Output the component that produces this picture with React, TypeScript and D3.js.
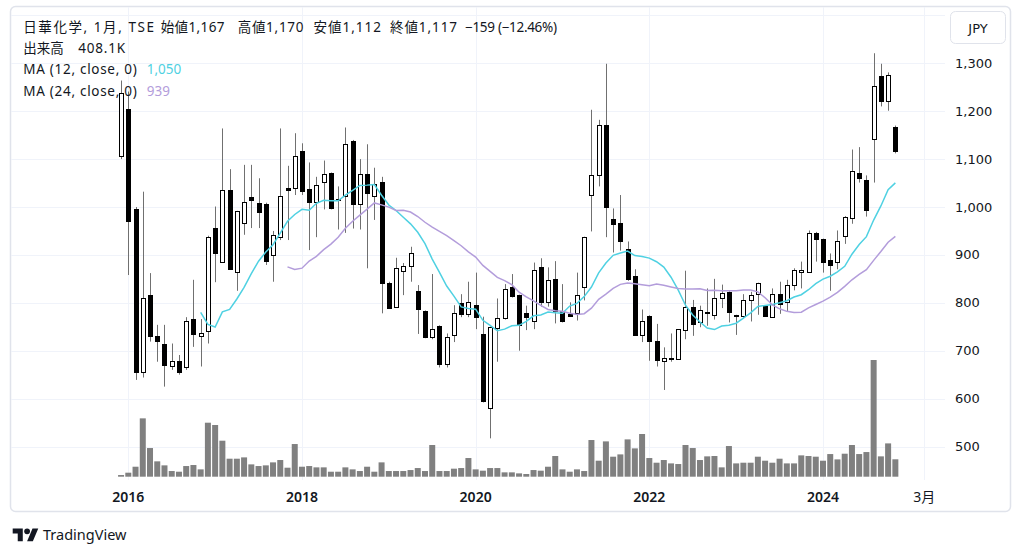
import React from "react";
import * as d3 from "d3";

// ---------- data (monthly, from 2015-12 to 2024-11) ----------
const startMonth = "2015-12";
const instrument = "日華化学";
const interval = "1月";
const exchange = "TSE";

const opens = [
  1107, 1204, 996, 655, 817, 731, 715, 668, 679, 667,
  766, 731, 741, 956, 885, 1036, 864, 966, 1020, 1009,
  1006, 900, 938, 1039, 1039, 1116, 1037, 1011, 1052, 1070,
  1017, 1023, 1138, 1006, 1068, 1023, 1052, 842, 791, 867,
  876, 825, 783, 728, 752, 672, 733, 799, 777, 795,
  734, 580, 747, 768, 832, 816, 779, 762, 874, 801,
  849, 783, 777, 779, 832, 1025, 1067, 1171, 974, 967,
  912, 855, 733, 773, 721, 679, 684, 682, 743, 792,
  759, 780, 775, 810, 823, 774, 773, 806, 818, 793,
  771, 818, 802, 837, 864, 864, 946, 933, 889, 885,
  940, 976, 1072, 1056, 1142, 1274, 1222, 1167,
];
const highs = [
  1264, 1241, 1000, 1032, 862, 754, 754, 715, 691, 770,
  848, 766, 940, 1001, 1164, 1079, 992, 1088, 1088, 1060,
  1009, 950, 1164, 1086, 1154, 1133, 1093, 1063, 1097, 1072,
  1043, 1166, 1140, 1100, 1131, 1082, 1063, 844, 894, 883,
  917, 837, 784, 860, 753, 736, 795, 818, 844, 863,
  771, 750, 809, 839, 860, 817, 794, 884, 893, 874,
  887, 839, 801, 863, 938, 1203, 1182, 1299, 997, 1025,
  928, 870, 786, 774, 756, 707, 736, 745, 867, 806,
  794, 830, 850, 838, 824, 775, 818, 823, 842, 795,
  830, 844, 848, 872, 886, 951, 948, 934, 903, 951,
  981, 1120, 1125, 1066, 1321, 1299, 1281, 1170,
];
const lows = [
  1100, 858, 639, 644, 719, 677, 625, 660, 650, 660,
  708, 667, 715, 843, 884, 869, 825, 942, 956, 956,
  879, 844, 931, 931, 1025, 1025, 910, 937, 995, 995,
  953, 946, 955, 953, 872, 973, 778, 787, 790, 816,
  844, 735, 726, 724, 665, 665, 718, 770, 770, 745,
  592, 517, 677, 765, 811, 700, 743, 745, 792, 792,
  757, 759, 771, 763, 805, 949, 1043, 937, 905, 909,
  846, 733, 718, 679, 667, 618, 677, 681, 724, 731,
  749, 752, 765, 789, 759, 733, 767, 761, 775, 771,
  770, 777, 782, 826, 830, 863, 886, 863, 825, 870,
  923, 965, 1051, 980, 1051, 1210, 1201, 1112,
];
const closes = [
  1237, 971, 655, 809, 730, 721, 670, 679, 655, 762,
  734, 736, 938, 903, 1036, 870, 992, 1011, 1015, 990,
  887, 942, 1023, 1036, 1107, 1034, 1011, 1045, 1068, 997,
  1015, 1131, 1006, 1068, 1030, 1049, 841, 789, 873, 876,
  903, 787, 728, 745, 672, 728, 778, 777, 802, 771,
  594, 749, 768, 828, 814, 754, 770, 869, 801, 848,
  782, 762, 773, 817, 937, 1067, 1171, 999, 964, 928,
  849, 733, 762, 720, 681, 684, 682, 745, 792, 756,
  786, 778, 810, 821, 781, 773, 806, 817, 842, 772,
  818, 798, 837, 869, 869, 946, 933, 885, 879, 928,
  980, 1076, 1061, 994, 1253, 1222, 1276, 1117,
];
// volume in thousands of shares
const volumesK = [
  39, 94, 234, 1368, 672, 360, 266, 133, 117, 250,
  274, 172, 1266, 1212, 844, 422, 422, 453, 289, 250,
  266, 336, 391, 211, 766, 234, 250, 219, 219, 117,
  117, 219, 172, 133, 234, 117, 336, 133, 133, 133,
  156, 203, 133, 743, 133, 133, 188, 203, 438, 172,
  141, 203, 203, 102, 102, 78, 63, 156, 141, 234,
  485, 172, 117, 172, 133, 860, 375, 828, 469, 523,
  875, 664, 1001, 438, 328, 391, 312, 297, 743, 672,
  391, 477, 485, 219, 719, 312, 328, 328, 469, 375,
  328, 422, 312, 312, 500, 485, 469, 375, 531, 406,
  539, 743, 531, 578, 2736, 477, 781, 408.1,
];

const priceTicks = [1300, 1200, 1100, 1000, 900, 800, 700, 600, 500];
const timeTickLabels = ["2016", "2018", "2020", "2022", "2024", "3月"];
const timeTickMonths = ["2016-01", "2018-01", "2020-01", "2022-01", "2024-01", "2025-03"];
const maPeriods = [12, 24];

// ---------- helpers ----------
const W = 1024;
const H = 557;
const LEGEND_FONT = "'Noto Sans', 'Noto Sans CJK JP', sans-serif";
const PRICE_FONT = "'DejaVu Sans', 'Noto Sans CJK JP', sans-serif";
const TEXT = "#131722";
const GRID = "#f0f3fa";
const BORDER = "#e0e3eb";
const MA_COLORS = ["#4fd1e2", "#b39ddb"];

function monthIndex(s: string) {
  const [y0, m0] = startMonth.split("-").map(Number);
  const [y, m] = s.split("-").map(Number);
  return (y - y0) * 12 + (m - m0);
}

function sma(values: number[], n: number): (number | null)[] {
  return values.map((_, i) => (i < n - 1 ? null : (d3.mean(values.slice(i - n + 1, i + 1)) as number)));
}

export default function App() {
  const plot = { left: 10, right: 945, top: 6, bottom: 480 };

  const x = d3
    .scaleLinear()
    .domain([monthIndex(timeTickMonths[0]), monthIndex(timeTickMonths[timeTickMonths.length - 1])])
    .range([128.3, 924.3]);
  const y = d3.scaleLinear().domain([500, 1300]).range([446.5, 63.3]);
  const vy = d3
    .scaleLinear()
    .domain([0, d3.max(volumesK) as number])
    .range([476.7, 360]);

  const gridPrices = d3
    .range(Math.ceil(y.invert(plot.bottom) / 100) * 100, y.invert(plot.top), 100)
    .filter((p) => y(p) > plot.top && y(p) < plot.bottom);

  const mas = maPeriods.map((n) => sma(closes, n));
  const line = d3
    .line<number | null>()
    .defined((d) => d != null)
    .x((_, i) => x(i))
    .y((d) => y(d as number));

  const n = closes.length;
  const last = n - 1;
  const fmt = d3.format(",");
  const chg = closes[last] - closes[last - 1];
  const pct = (chg / closes[last - 1]) * 100;
  const minus = (v: number, s: string) => (v < 0 ? "\u2212" + s.replace("-", "") : s);

  // [x start, x end, text]
  const titleSegs: [number, number, string][] = [
    [23.3, 154, `${instrument}, ${interval}, ${exchange}`],
    [160.7, 224.5, `始値${fmt(opens[last])}`],
    [237.7, 303.5, `高値${fmt(highs[last])}`],
    [313.5, 381, `安値${fmt(lows[last])}`],
    [390, 457, `終値${fmt(closes[last])}`],
    [465, 557, `${minus(chg, String(chg))} (${minus(pct, pct.toFixed(2))}%)`],
  ];

  const rowY = [27, 48, 69, 91];

  return (
    <svg
      width={W}
      height={H}
      viewBox={`0 0 ${W} ${H}`}
      style={{ position: "absolute", left: 0, top: 0, background: "#fff", fontFamily: LEGEND_FONT }}
    >
      <rect x={0} y={0} width={W} height={H} fill="#fff" />
      {/* frame */}
      <rect x={10.5} y={6.5} width={1000} height={505} rx={5} fill="#fff" stroke={BORDER} strokeWidth={1.5} />

      {/* grid */}
      <g>
        {gridPrices.map((p) => (
          <line key={"h" + p} x1={plot.left + 1} x2={plot.right} y1={Math.round(y(p)) + 0.5} y2={Math.round(y(p)) + 0.5} stroke={GRID} />
        ))}
        {timeTickMonths.map((m) => (
          <line
            key={"v" + m}
            x1={Math.round(x(monthIndex(m))) + 0.5}
            x2={Math.round(x(monthIndex(m))) + 0.5}
            y1={plot.top + 1}
            y2={plot.bottom}
            stroke={GRID}
          />
        ))}
      </g>

      {/* volume */}
      <g>
        {volumesK.map((v, i) => (
          <rect key={"vol" + i} x={x(i) - 3} width={6} y={vy(v)} height={vy(0) - vy(v)} fill="#808080" />
        ))}
      </g>

      {/* candles */}
      <g>
        {closes.map((c, i) => {
          const o = opens[i];
          const cx = Math.round(x(i));
          const up = c >= o;
          const top = Math.round(y(Math.max(o, c))) + 0.5;
          const bot = Math.round(y(Math.min(o, c))) + 0.5;
          const h = Math.max(bot - top, 1);
          return (
            <g key={"c" + i}>
              <line x1={cx + 0.5} x2={cx + 0.5} y1={y(highs[i])} y2={y(lows[i])} stroke="#707070" strokeWidth={1} />
              <rect x={cx - 1.5} width={4} y={top} height={h} fill={up ? "#fff" : "#000"} stroke="#000" strokeWidth={1} />
            </g>
          );
        })}
      </g>

      {/* moving averages */}
      <g>
        {mas.map((ma, j) => (
          <path key={"ma" + j} d={line(ma) || ""} fill="none" stroke={MA_COLORS[j]} strokeWidth={1.5} />
        ))}
      </g>

      {/* legend */}
      <g fontSize={13.5} fill={TEXT} dominantBaseline="central">
        {titleSegs.map(([tx, tx2, s], i) => (
          <text key={"t" + i} x={tx} y={rowY[0]} textLength={tx2 - tx} lengthAdjust="spacing">
            {s}
          </text>
        ))}
        <text x={23.3} y={rowY[1]}>出来高</text>
        <text x={78.3} y={rowY[1]} textLength={46.7} lengthAdjust="spacing">{`${volumesK[last].toFixed(1)}K`}</text>
        {maPeriods.map((p, j) => (
          <g key={"lg" + p}>
            <text x={23.3} y={rowY[2 + j]} textLength={113.4} lengthAdjust="spacing">{`MA (${p}, close, 0)`}</text>
            <text x={146.7} y={rowY[2 + j]} fill={MA_COLORS[j]}>
              {fmt(Math.round(mas[j][last] as number))}
            </text>
          </g>
        ))}
      </g>

      {/* price axis */}
      <g fontSize={13} fill={TEXT} dominantBaseline="central" fontFamily={PRICE_FONT}>
        {priceTicks.map((p) => (
          <text key={"p" + p} x={955} y={y(p)}>
            {fmt(p)}
          </text>
        ))}
      </g>
      <rect x={950.5} y={11.5} width={55} height={32} rx={5} fill="#fff" stroke={BORDER} />
      <text x={978} y={28} fontSize={13} fill={TEXT} textAnchor="middle" dominantBaseline="central" fontFamily={PRICE_FONT}>
        JPY
      </text>

      {/* time axis */}
      <g fontSize={14} fill={TEXT} textAnchor="middle" dominantBaseline="central">
        {timeTickMonths.map((m, i) => (
          <text key={"tt" + m} x={x(monthIndex(m))} y={496} fontWeight={/^\d{4}$/.test(timeTickLabels[i]) ? 600 : 400}>
            {timeTickLabels[i]}
          </text>
        ))}
      </g>

      {/* TradingView logo */}
      <g transform="translate(12.7,525.5) scale(0.72)" fill={TEXT}>
        <path d="M14 22H7V11H0V4h14v18zM28 22h-8l7.5-18h8L28 22z" />
        <circle cx={20} cy={8} r={4} />
      </g>
      <text x={43} y={539.5} fontSize={14.5} fill={TEXT}>
        TradingView
      </text>
    </svg>
  );
}
